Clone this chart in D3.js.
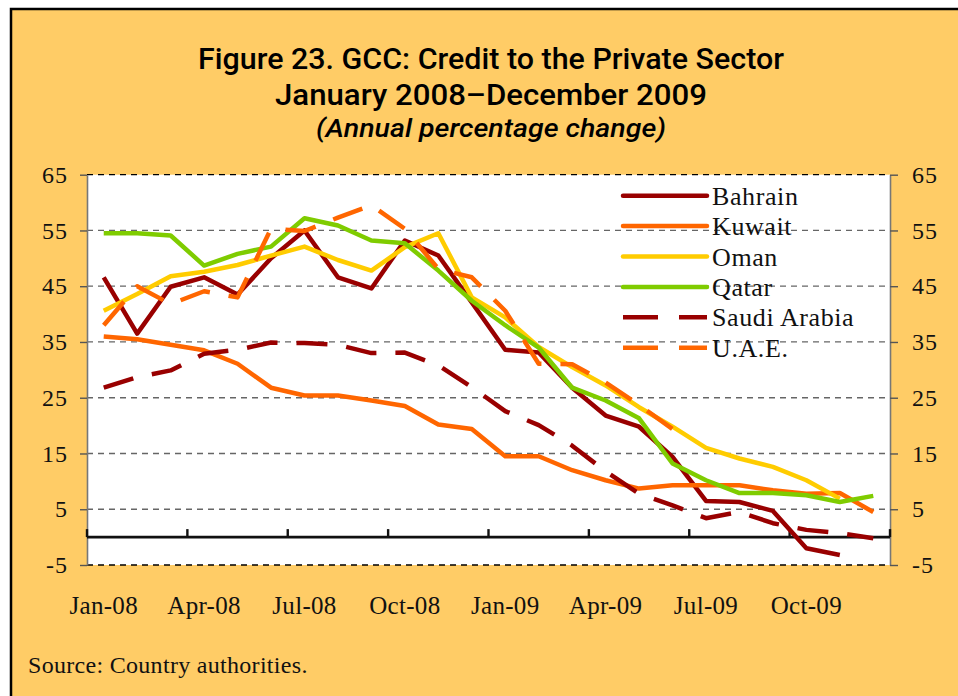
<!DOCTYPE html>
<html>
<head>
<meta charset="utf-8">
<script src="https://cdn.jsdelivr.net/npm/d3@7"></script>
<style>
body { margin: 0; background: #fff; }
</style>
</head>
<body>
<svg id="chart"></svg>
<script>
// monthly categories, Jan 2008 - Dec 2009
var months = ["Jan-08","Feb-08","Mar-08","Apr-08","May-08","Jun-08","Jul-08","Aug-08","Sep-08","Oct-08","Nov-08","Dec-08",
              "Jan-09","Feb-09","Mar-09","Apr-09","May-09","Jun-09","Jul-09","Aug-09","Sep-09","Oct-09","Nov-09","Dec-09"];
var tickLabels = ["Jan-08","Apr-08","Jul-08","Oct-08","Jan-09","Apr-09","Jul-09","Oct-09"];
var yTicks = [-5, 5, 15, 25, 35, 45, 55, 65];

// annual percentage change
var bahrain = [46.6, 36.5, 44.9, 46.6, 43.5, 50.0, 55.0, 46.6, 44.6, 53.2, 50.5, 42.1,
               33.6, 33.1, 26.8, 21.8, 19.8, 14.4, 6.5, 6.3, 4.7, -2.0, -3.2, null];
var kuwait = [36.0, 35.5, 34.5, 33.5, 31.1, 26.8, 25.4, 25.4, 24.5, 23.5, 20.2, 19.4,
              14.5, 14.5, 12.0, 10.2, 8.7, 9.3, 9.3, 9.3, 8.4, 7.8, 7.9, 4.5];
var oman = [40.6, 43.6, 46.8, 47.6, 48.8, 50.5, 52.1, 49.7, 47.8, 52.0, 54.5, 43.0,
            39.4, 34.1, 30.5, 27.2, 23.3, 19.8, 16.0, 14.1, 12.6, 10.2, 6.9, null];
var qatar = [54.5, 54.5, 54.1, 48.7, 50.8, 52.1, 57.2, 55.9, 53.2, 52.7, 47.8, 42.4,
             38.0, 34.0, 26.8, 24.5, 21.3, 13.2, 10.2, 7.9, 7.9, 7.5, 6.3, 7.4];
var saudi = [26.8, 28.7, 29.9, 32.9, 33.6, 34.9, 34.8, 34.5, 33.0, 33.1, 30.8, 26.9,
             22.6, 20.1, 16.4, 11.8, 7.8, 5.7, 3.4, 4.5, 2.5, 1.3, 0.7, -0.2];
var uae = [38.0, 45.0, 41.8, 44.1, 43.0, 55.3, 54.9, 57.3, 59.5, 55.3, 48.1, 46.6,
           40.6, 31.1, 31.0, 27.7, 23.7, 19.4, null, null, null, null, null, null];

var seriesNames = ["Bahrain", "Kuwait", "Oman", "Qatar", "Saudi Arabia", "U.A.E."];
var seriesValues = [bahrain, kuwait, oman, qatar, saudi, uae];

// look of each series
var styles = {
  "Bahrain":      {color: "#990000", dash: null},
  "Kuwait":       {color: "#FF6600", dash: null},
  "Oman":         {color: "#FFCC00", dash: null},
  "Qatar":        {color: "#7FCC00", dash: null},
  "Saudi Arabia": {color: "#990000", dash: "31,19"},
  "U.A.E.":       {color: "#FF6600", dash: "31,19"}
};

var screen = {width: 958, height: 696};
var plotBox = {left: 87, right: 890, top: 174.7, bottom: 565};
var serif = "'Liberation Serif', 'Times New Roman', serif";
var titleFont = "Roboto, 'Liberation Sans', sans-serif";

var svg = d3.select("#chart")
            .attr("width", screen.width)
            .attr("height", screen.height);

// yellow frame
svg.append("rect")
   .attr("x", 11).attr("y", 9)
   .attr("width", 960).attr("height", 700)
   .attr("fill", "#FFCC66")
   .attr("stroke", "#000")
   .attr("stroke-width", 2.5);

// titles
var titles = [
  {text: "Figure 23. GCC: Credit to the Private Sector", y: 69, len: 586, style: "normal"},
  {text: "January 2008\u2013December 2009", y: 105, len: 432, style: "normal"},
  {text: "(Annual percentage change)", y: 137, len: 350, style: "italic"}
];
svg.selectAll("text.title")
   .data(titles)
   .enter()
   .append("text")
   .attr("class", "title")
   .attr("x", 491)
   .attr("y", function(d) { return d.y; })
   .attr("text-anchor", "middle")
   .attr("font-family", titleFont)
   .attr("font-weight", 500)
   .attr("font-style", function(d) { return d.style; })
   .attr("font-size", function(d, i) { return i == 2 ? 26 : 29; })
   .attr("textLength", function(d) { return d.len; })
   .attr("lengthAdjust", "spacingAndGlyphs")
   .attr("fill", "#000")
   .text(function(d) { return d.text; });

var xScale = d3.scaleBand()
               .domain(months)
               .range([plotBox.left, plotBox.right]);
var xMid = function(m) { return xScale(m) + xScale.bandwidth() / 2; };

var yScale = d3.scaleLinear()
               .domain([-5, 65])
               .range([plotBox.bottom, plotBox.top]);

// white plot area
svg.append("rect")
   .attr("x", plotBox.left).attr("y", plotBox.top)
   .attr("width", plotBox.right - plotBox.left)
   .attr("height", plotBox.bottom - plotBox.top)
   .attr("fill", "#fff");

// dashed gridlines
svg.append("g")
   .selectAll("line")
   .data(yTicks)
   .enter()
   .append("line")
   .attr("x1", plotBox.left)
   .attr("x2", plotBox.right)
   .attr("y1", function(d) { return yScale(d); })
   .attr("y2", function(d) { return yScale(d); })
   .attr("stroke", function(d) { return (d == -5 || d == 65) ? "#000" : "#666"; })
   .attr("stroke-width", 1.3)
   .attr("stroke-dasharray", "6,5");

// left and right value axes
var plain = function(d) { return String(d); };
var yAxisL = d3.axisLeft(yScale).tickValues(yTicks).tickFormat(plain).tickSize(7).tickSizeOuter(0).tickPadding(12);
var yAxisR = d3.axisRight(yScale).tickValues(yTicks).tickFormat(plain).tickSize(8).tickSizeOuter(0).tickPadding(14);

var gl = svg.append("g")
            .attr("transform", "translate(" + plotBox.left + ",0)")
            .call(yAxisL);
var gr = svg.append("g")
            .attr("transform", "translate(" + plotBox.right + ",0)")
            .call(yAxisR);

[gl, gr].forEach(function(g) {
  g.select(".domain").attr("stroke", "#777").attr("stroke-width", 1.6);
  g.selectAll(".tick line").attr("stroke", "#555").attr("stroke-width", 1.4);
  g.selectAll(".tick text")
   .attr("font-family", serif)
   .attr("font-size", 24)
   .attr("letter-spacing", 1)
   .attr("fill", "#111");
});

// zero line with month ticks
var y0 = yScale(0);
svg.append("line")
   .attr("x1", plotBox.left).attr("x2", plotBox.right)
   .attr("y1", y0).attr("y2", y0)
   .attr("stroke", "#111")
   .attr("stroke-width", 2.6);

var tickMonths = months.filter(function(m, i) { return i % 3 == 0; });
svg.append("g")
   .selectAll("line")
   .data(tickMonths.map(function(m) { return xScale(m); }).concat([plotBox.right]))
   .enter()
   .append("line")
   .attr("x1", function(d) { return d; })
   .attr("x2", function(d) { return d; })
   .attr("y1", y0)
   .attr("y2", y0 - 8)
   .attr("stroke", "#111")
   .attr("stroke-width", 2.4);

// month labels
svg.append("g")
   .selectAll("text")
   .data(tickLabels)
   .enter()
   .append("text")
   .attr("x", function(d) { return xMid(d); })
   .attr("y", 614)
   .attr("text-anchor", "middle")
   .attr("font-family", serif)
   .attr("font-size", 25)
   .attr("letter-spacing", 0.3)
   .attr("fill", "#111")
   .text(function(d) { return d; });

// series lines
var line = d3.line()
             .defined(function(d) { return d != null; })
             .x(function(d, i) { return xMid(months[i]); })
             .y(function(d) { return yScale(d); });

seriesNames.forEach(function(name, k) {
  svg.append("path")
     .datum(seriesValues[k])
     .attr("d", line)
     .attr("fill", "none")
     .attr("stroke", styles[name].color)
     .attr("stroke-width", 4.5)
     .attr("stroke-linejoin", "round")
     .attr("stroke-dasharray", styles[name].dash);
});

// legend
var legend = svg.append("g");
seriesNames.forEach(function(name, k) {
  var ly = 195.7 + k * 30.4;
  legend.append("line")
        .attr("x1", 623).attr("x2", 707)
        .attr("y1", ly).attr("y2", ly)
        .attr("stroke", styles[name].color)
        .attr("stroke-width", 4.5)
        .attr("stroke-linecap", styles[name].dash ? "butt" : "round")
        .attr("stroke-dasharray", styles[name].dash ? "35,21" : null);
  legend.append("text")
        .attr("x", 712)
        .attr("y", ly + 9)
        .attr("font-family", serif)
        .attr("font-size", 26)
        .attr("letter-spacing", 0.6)
        .attr("fill", "#111")
        .text(name);
});

// source note
svg.append("text")
   .attr("x", 28)
   .attr("y", 673)
   .attr("font-family", serif)
   .attr("font-size", 24)
   .attr("letter-spacing", 0.3)
   .attr("fill", "#111")
   .text("Source: Country authorities.");
</script>
</body>
</html>
